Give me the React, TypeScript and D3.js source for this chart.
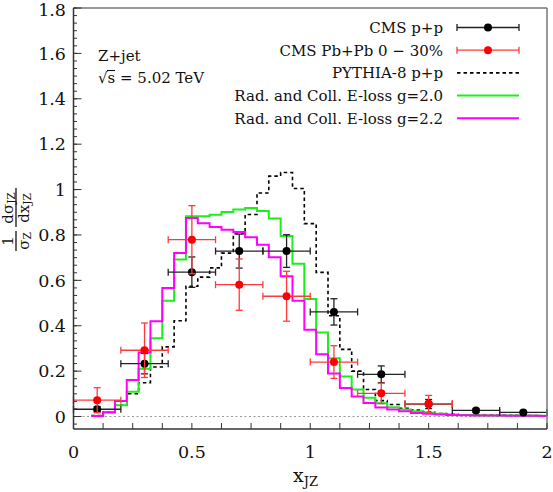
import * as d3 from 'd3';
import React from 'react';

// histogram bins (centres, width 0.05)
const binCenters = [0.1, 0.15, 0.2, 0.25, 0.3, 0.35, 0.4, 0.45, 0.5, 0.55, 0.6, 0.65, 0.7, 0.75, 0.8, 0.85, 0.9, 0.95, 1.0,
  1.05, 1.1, 1.15, 1.2, 1.25, 1.3, 1.35, 1.4, 1.45, 1.5, 1.55, 1.6, 1.65, 1.7, 1.75, 1.8, 1.85, 1.9, 1.95, 2.0];
const binWidth = 0.05;

const pythia = [0.004, 0.02, 0.05, 0.1, 0.149, 0.218, 0.307, 0.422, 0.574,
  0.614, 0.655, 0.72, 0.805, 0.89, 0.985, 1.059, 1.075, 1.005, 0.85,
  0.635, 0.444, 0.296, 0.2, 0.119, 0.07, 0.053, 0.036, 0.028, 0.02,
  0.013, 0.01, 0.008, 0.007, 0.006, 0.005, 0.005, 0.004, 0.004, 0.003];
const eloss20 = [0.002, 0.018, 0.05, 0.109, 0.211, 0.345, 0.51, 0.692, 0.882,
  0.882, 0.889, 0.901, 0.912, 0.919, 0.906, 0.872, 0.795, 0.673, 0.518,
  0.37, 0.257, 0.176, 0.119, 0.083, 0.058, 0.041, 0.031, 0.023, 0.017,
  0.012, 0.009, 0.007, 0.006, 0.005, 0.004, 0.004, 0.003, 0.003, 0.003];
const eloss22 = [0.002, 0.019, 0.068, 0.161, 0.282, 0.42, 0.566, 0.72, 0.875,
  0.852, 0.835, 0.823, 0.813, 0.79, 0.757, 0.702, 0.618, 0.51, 0.382,
  0.274, 0.19, 0.126, 0.088, 0.06, 0.04, 0.031, 0.023, 0.016, 0.012,
  0.009, 0.007, 0.006, 0.005, 0.004, 0.004, 0.003, 0.003, 0.003, 0.002];

// CMS data
const ppX = [0.1, 0.3, 0.5, 0.7, 0.9, 1.1, 1.3, 1.5, 1.7, 1.9];
const ppY = [0.032, 0.233, 0.636, 0.729, 0.729, 0.461, 0.186, 0.055, 0.027, 0.018];
const ppErr = [0.012, 0.045, 0.067, 0.075, 0.072, 0.058, 0.037, 0.02, 0.008, 0.006];
const pbX = [0.1, 0.3, 0.5, 0.7, 0.9, 1.1, 1.3, 1.5];
const pbY = [0.072, 0.292, 0.779, 0.581, 0.53, 0.24, 0.102, 0.056];
const pbErr = [0.055, 0.12, 0.15, 0.113, 0.11, 0.072, 0.045, 0.037];
const xHalfWidth = 0.1;

const xTickLabels = [0, 0.5, 1, 1.5, 2];
const yTickLabels = [0, 0.2, 0.4, 0.6, 0.8, 1, 1.2, 1.4, 1.6, 1.8];
const legendLabels = ['CMS p+p', 'CMS Pb+Pb 0 \u2212 30%', 'PYTHIA-8 p+p',
  'Rad. and Coll. E-loss g=2.0', 'Rad. and Coll. E-loss g=2.2'];

const FONT = 'DejaVu Serif';
const GREEN = '#1bee1b';
const MAGENTA = '#ff00ff';
const RED = '#ff0000';

export default function App() {
  const width = 553;
  const height = 492;
  const x = d3.scaleLinear().domain([0, 2]).range([73.5, 547]);
  const y = d3.scaleLinear().domain([-0.055, 1.8]).range([429, 8]);

  const step = (vals: number[]) =>
    d3.line<[number, number]>().x(d => x(d[0])).y(d => y(d[1]))(
      binCenters.flatMap((c, i) => [[c - binWidth / 2, vals[i]], [c + binWidth / 2, vals[i]]] as [number, number][])
    ) || '';

  const xMinor = d3.range(0, 17).map(i => i * 0.125);
  const yMinor = d3.range(-1, 55).map(i => i * 0.2 / 6).filter(v => v >= -0.055 && v <= 1.8);

  const errorBars = (xs: number[], ys: number[], es: number[], barColor: string, dotColor: string) => (
    <g>
      {xs.map((xv, i) => {
        const cx = x(xv), cy = y(ys[i]);
        const x0 = x(xv - xHalfWidth), x1 = x(xv + xHalfWidth);
        const y0 = y(ys[i] - es[i]), y1 = y(ys[i] + es[i]);
        return (
          <g key={i} stroke={barColor} strokeWidth={1.3}>
            <line x1={x0} x2={x1} y1={cy} y2={cy} />
            <line x1={x0} x2={x0} y1={cy - 3.5} y2={cy + 3.5} />
            <line x1={x1} x2={x1} y1={cy - 3.5} y2={cy + 3.5} />
            <line x1={cx} x2={cx} y1={y0} y2={y1} />
            <line x1={cx - 3.5} x2={cx + 3.5} y1={y0} y2={y0} />
            <line x1={cx - 3.5} x2={cx + 3.5} y1={y1} y2={y1} />
            <circle cx={cx} cy={cy} r={4} fill={dotColor} stroke="none" />
          </g>
        );
      })}
    </g>
  );

  const legendY = (i: number) => 27.5 + i * 22.7;
  const lx0 = 457, lx1 = 519, lxText = 443;

  return (
    <svg width={width} height={height} style={{ position: 'absolute', left: 0, top: 0, background: '#fff' }}
      fontFamily={FONT}>
      <defs>
        <clipPath id="plot-clip">
          <rect x={x(0)} y={y(1.8)} width={x(2) - x(0)} height={y(-0.055) - y(1.8)} />
        </clipPath>
      </defs>

      {/* zero line */}
      <line x1={x(0)} x2={x(2)} y1={y(0)} y2={y(0)} stroke="#999" strokeWidth={1} strokeDasharray="2,2.5" />

      <g clipPath="url(#plot-clip)" fill="none">
        <path d={step(pythia)} stroke="#000" strokeWidth={1.6} strokeDasharray="3.5,3" />
        <path d={step(eloss20)} stroke={GREEN} strokeWidth={2} />
        <path d={step(eloss22)} stroke={MAGENTA} strokeWidth={2} />
      </g>

      {errorBars(ppX, ppY, ppErr, '#222', '#000')}
      {errorBars(pbX, pbY, pbErr, '#ff3a3a', RED)}

      {/* frame */}
      <line x1={x(0)} x2={x(2)} y1={y(1.8)} y2={y(1.8)} stroke="#777" strokeWidth={1.5} />
      <line x1={x(2)} x2={x(2)} y1={y(1.8)} y2={y(-0.055)} stroke="#777" strokeWidth={1.5} />
      <line x1={x(0)} x2={x(0)} y1={y(1.8)} y2={y(-0.055)} stroke="#333" strokeWidth={1.5} />
      <line x1={x(0)} x2={x(2)} y1={y(-0.055)} y2={y(-0.055)} stroke="#333" strokeWidth={1.5} />

      {/* x ticks */}
      {xMinor.map((v, i) => (
        <line key={i} x1={x(v)} x2={x(v)} y1={y(-0.055)} y2={y(-0.055) - 6} stroke="#333" strokeWidth={1} />
      ))}
      {xTickLabels.map(v => (
        <text key={v} x={x(v)} y={458} textAnchor="middle" fontSize={17.5} fill="#111">{String(v)}</text>
      ))}

      {/* y ticks */}
      {yMinor.map((v, i) => (
        <line key={i} x1={x(0)} x2={x(0) + 3.5} y1={y(v)} y2={y(v)} stroke="#333" strokeWidth={1} />
      ))}
      {yTickLabels.map(v => (
        <g key={v}>
          <line x1={x(0)} x2={x(0) + 8} y1={y(v)} y2={y(v)} stroke="#333" strokeWidth={1} />
          <text x={66} y={Math.max(y(v), 9.5)} dy="0.36em" textAnchor="end" fontSize={17.5} fill="#111">{String(v)}</text>
        </g>
      ))}

      {/* x title */}
      <text x={293} y={482} fontSize={19} fill="#111">
        x<tspan fontSize={13} dy={4}>JZ</tspan>
      </text>

      {/* y title: 1/sigma_Z dsigma_JZ/dx_JZ */}
      <g transform="translate(16,218) rotate(-90)" fill="#111">
        <text x={-23} y={-3.5} textAnchor="middle" fontSize={15}>1</text>
        <line x1={-33} x2={-13} y1={0} y2={0} stroke="#111" strokeWidth={1.3} />
        <text x={-23} y={12.5} textAnchor="middle" fontSize={15}>{'\u03c3'}<tspan fontSize={10.5} dy={2}>Z</tspan></text>
        <text x={10} y={-3.5} textAnchor="middle" fontSize={15}>{'d\u03c3'}<tspan fontSize={10.5} dy={2}>JZ</tspan></text>
        <line x1={-9} x2={30} y1={0} y2={0} stroke="#111" strokeWidth={1.3} />
        <text x={10} y={12.5} textAnchor="middle" fontSize={15}>dx<tspan fontSize={10.5} dy={2}>JZ</tspan></text>
      </g>

      {/* annotation */}
      <text x={98} y={61} fontSize={15} fill="#111">Z+jet</text>
      <text x={98} y={83} fontSize={15} fill="#111">{'\u221as = 5.02 TeV'}</text>
      <line x1={107} x2={115} y1={70.5} y2={70.5} stroke="#111" strokeWidth={1.1} />

      {/* legend */}
      <g fontSize={15} fill="#111">
        {legendLabels.map((t, i) => (
          <text key={t} x={lxText} y={legendY(i)} dy="0.36em" textAnchor="end">{t}</text>
        ))}
      </g>
      {[{ bar: '#222', dot: '#000' }, { bar: '#ff3a3a', dot: RED }].map((s, i) => (
        <g key={i} stroke={s.bar} strokeWidth={1.3}>
          <line x1={lx0} x2={lx1} y1={legendY(i)} y2={legendY(i)} />
          <line x1={lx0} x2={lx0} y1={legendY(i) - 3.5} y2={legendY(i) + 3.5} />
          <line x1={lx1} x2={lx1} y1={legendY(i) - 3.5} y2={legendY(i) + 3.5} />
          <circle cx={(lx0 + lx1) / 2} cy={legendY(i)} r={4} fill={s.dot} stroke="none" />
        </g>
      ))}
      <line x1={lx0} x2={lx1} y1={legendY(2)} y2={legendY(2)} stroke="#000" strokeWidth={1.6} strokeDasharray="3.5,3" />
      <line x1={lx0} x2={lx1} y1={legendY(3)} y2={legendY(3)} stroke={GREEN} strokeWidth={2} />
      <line x1={lx0} x2={lx1} y1={legendY(4)} y2={legendY(4)} stroke={MAGENTA} strokeWidth={2} />
    </svg>
  );
}
